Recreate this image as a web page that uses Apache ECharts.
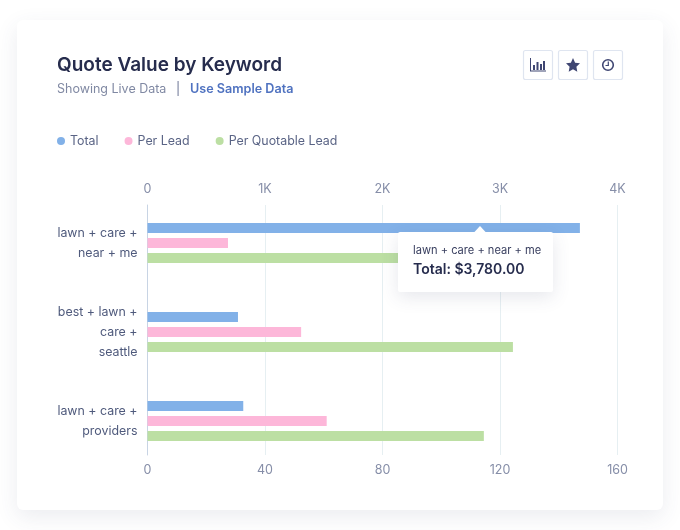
<!DOCTYPE html>
<html>
<head>
<meta charset="utf-8">
<title>Quote Value by Keyword</title>
<script src="https://cdn.jsdelivr.net/npm/echarts@6/dist/echarts.min.js"></script>
<style>
  html, body { margin: 0; padding: 0; background: #fff; }
  #chart { width: 680px; height: 530px; }
</style>
</head>
<body>
<div id="chart"></div>
<script>
// 数据
var keywords = ['lawn + care +\nnear + me', 'best + lawn +\ncare +\nseattle', 'lawn + care +\nproviders'];
var totalValues = [3680, 770, 815];
var perLeadValues = [27.4, 52.3, 61];
var perQuotableValues = [100, 124.4, 114.5];
var topTicks = { 0: '0', 1000: '1K', 2000: '2K', 3000: '3K', 4000: '4K' };
var tipKeyword = 'lawn + care + near + me';
var tipValue = 'Total: $3,780.00';

var fontName = 'Inter';
var myChart = echarts.init(document.getElementById('chart'));

// 卡片、标题、按钮、提示框
var graphics = [
  { type: 'rect', z: -10, shape: { x: 17, y: 20, width: 646, height: 490, r: 6 },
    style: { fill: '#fff', shadowBlur: 22, shadowOffsetY: 7, shadowColor: 'rgba(60,70,110,0.10)' } },
  { type: 'text', x: 57, y: 56, style: { text: 'Quote Value by Keyword', font: '600 19px ' + fontName, fill: '#262c4d' } },
  { type: 'text', x: 57, y: 83, style: { text: 'Showing Live Data', font: '12.5px ' + fontName, fill: '#8089a3' } },
  { type: 'text', x: 176, y: 83, style: { text: '|', font: '12.5px ' + fontName, fill: '#6b7494' } },
  { type: 'text', x: 190, y: 83, style: { text: 'Use Sample Data', font: '600 12.6px ' + fontName, fill: '#4f72c0' } }
];
[523, 558, 593].forEach(function (x) {
  graphics.push({ type: 'rect', shape: { x: x + 0.5, y: 50.5, width: 29, height: 29, r: 2 },
    style: { fill: '#fff', stroke: '#dfe5f0', lineWidth: 1.2 } });
});
var iconColor = '#3f4672';
// 柱状图图标
[[530, 58, 1, 13], [530, 70.5, 16, 1], [533, 65, 2, 5], [536.5, 62, 2, 8], [540, 64, 2, 6], [543, 61, 2, 9]].forEach(function (b) {
  graphics.push({ type: 'rect', shape: { x: b[0], y: b[1], width: b[2], height: b[3] }, style: { fill: iconColor } });
});
graphics.push(
  { type: 'polygon', shape: { points: [[573, 58], [575.1, 62.7], [580, 63.3], [576.4, 66.7], [577.3, 71.8], [573, 69.3], [568.7, 71.8], [569.6, 66.7], [566, 63.3], [570.9, 62.7]] },
    style: { fill: iconColor } },
  { type: 'circle', shape: { cx: 608, cy: 65, r: 5.3 }, style: { fill: 'none', stroke: iconColor, lineWidth: 1.6 } },
  { type: 'polyline', shape: { points: [[608.3, 61.5], [608.3, 65.5], [605.5, 65.5]] }, style: { fill: 'none', stroke: iconColor, lineWidth: 1.2 } },
  { type: 'rect', z: 50, shape: { x: 398, y: 232, width: 155, height: 60, r: 2 },
    style: { fill: '#fff', shadowBlur: 18, shadowOffsetY: 5, shadowColor: 'rgba(60,70,110,0.13)' } },
  { type: 'polygon', z: 51, shape: { points: [[474, 232.5], [480, 226], [486, 232.5]] }, style: { fill: '#fff' } },
  { type: 'text', z: 52, x: 413, y: 245, style: { text: tipKeyword, font: '11.1px ' + fontName, fill: '#3a4060' } },
  { type: 'text', z: 52, x: 413, y: 263, style: { text: tipValue, font: '600 14px ' + fontName, fill: '#262c4d' } }
);

var option = {
  animation: false,
  textStyle: { fontFamily: fontName },
  graphic: graphics,
  legend: {
    left: 52,
    top: 130,
    icon: 'circle',
    itemWidth: 8,
    itemHeight: 8,
    itemGap: 26,
    textStyle: { fontFamily: fontName, fontSize: 12.4, color: '#5a6485' },
    data: ['Total', 'Per Lead', 'Per Quotable Lead']
  },
  // 第一个 grid 画坐标轴和网格线，第二个 grid 放柱子
  grid: [
    { left: 147.5, width: 470, top: 205, height: 250 },
    { left: 147.5, width: 470, top: 198.5, height: 267 }
  ],
  xAxis: [
    {
      gridIndex: 0, type: 'value', position: 'top', min: 0, max: 4000, interval: 1000,
      axisLine: { show: false }, axisTick: { show: false },
      axisLabel: { fontFamily: fontName, fontSize: 12.5, color: '#868ea8', margin: 9,
        formatter: function (v) { return topTicks[v]; } },
      splitLine: { show: true, lineStyle: { color: '#e6eff2', width: 1 } }
    },
    {
      gridIndex: 0, type: 'value', position: 'bottom', min: 0, max: 160, interval: 40,
      axisLine: { show: false }, axisTick: { show: false },
      axisLabel: { fontFamily: fontName, fontSize: 12.5, color: '#868ea8', margin: 9 },
      splitLine: { show: false }
    },
    { gridIndex: 1, type: 'value', min: 0, max: 4000, show: false },
    { gridIndex: 1, type: 'value', min: 0, max: 160, show: false }
  ],
  yAxis: [
    {
      gridIndex: 0, type: 'value', min: 0, max: 1,
      axisLine: { show: true, lineStyle: { color: '#c8d4e4', width: 1 } },
      axisTick: { show: false }, axisLabel: { show: false }, splitLine: { show: false }
    },
    {
      gridIndex: 1, type: 'category', inverse: true, data: keywords,
      axisLine: { show: false }, axisTick: { show: false },
      axisLabel: { fontFamily: fontName, fontSize: 12.4, color: '#4f5a7c', lineHeight: 20, margin: 10, align: 'right' }
    }
  ],
  series: [
    { name: 'Total', type: 'bar', xAxisIndex: 2, yAxisIndex: 1, data: totalValues, barWidth: 10, barGap: '50%',
      itemStyle: { color: '#82b1e8' } },
    { name: 'Per Lead', type: 'bar', xAxisIndex: 3, yAxisIndex: 1, data: perLeadValues, barWidth: 10, barGap: '50%',
      itemStyle: { color: '#fdb7d9' } },
    { name: 'Per Quotable Lead', type: 'bar', xAxisIndex: 3, yAxisIndex: 1, data: perQuotableValues, barWidth: 10, barGap: '50%',
      itemStyle: { color: '#bcdfa3' } }
  ]
};
myChart.setOption(option);
</script>
</body>
</html>
